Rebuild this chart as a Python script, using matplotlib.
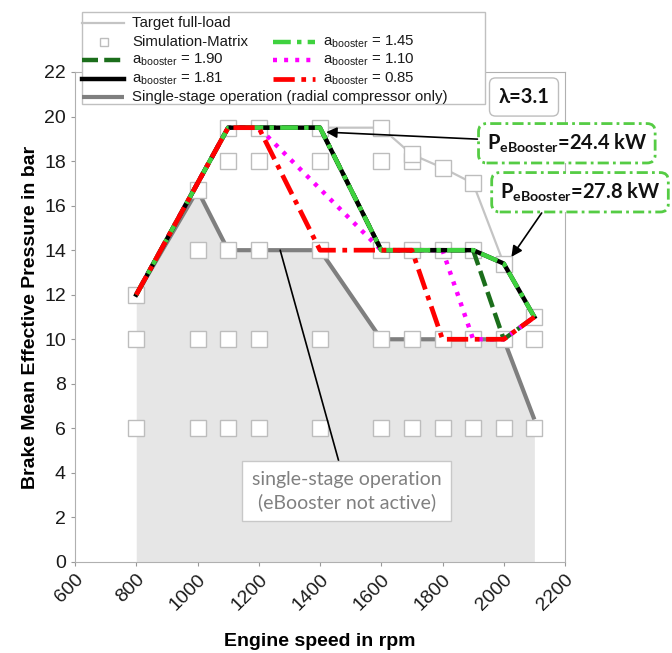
import matplotlib
matplotlib.use("Agg")
import matplotlib.pyplot as plt
from matplotlib.lines import Line2D
from matplotlib.patches import Rectangle

plt.rcParams['font.family'] = ['Liberation Sans', 'DejaVu Sans']
plt.rcParams['mathtext.fontset'] = 'custom'
plt.rcParams['mathtext.rm'] = 'Liberation Sans'
plt.rcParams['mathtext.bf'] = 'Lato:bold'

# ---- data -------------------------------------------------------------
target_rpm = [800, 1100, 1400, 1600, 1700, 1800, 1900, 2000, 2100]
target_bmep = [12.0, 19.5, 19.5, 19.5, 18.3, 17.7, 17.0, 13.4, 11.0]

single_rpm = [800, 1000, 1100, 1400, 1600, 2000, 2100]
single_bmep = [12.0, 16.7, 14.0, 14.0, 10.0, 10.0, 6.4]

sim_rpm = ([800, 1000, 1100, 1200, 1400, 1600, 1700, 1800, 1900, 2000, 2100] * 2
           + [1000, 1100, 1200, 1400, 1600, 1700, 1800, 1900]
           + [1100, 1200, 1400, 1600, 1700]
           + [1100, 1200, 1400, 1600]
           + [800, 1000, 1700, 1800, 1900, 2000, 2100])
sim_bmep = ([6] * 11 + [10] * 11
            + [14] * 8
            + [18] * 5
            + [19.5] * 4
            + [12, 16.7, 18.3, 17.7, 17.0, 13.4, 11.0])

b190_rpm = [800, 1100, 1400, 1600, 1900, 2000, 2100]
b190_bmep = [12.0, 19.5, 19.5, 14.0, 14.0, 10.0, 11.0]
b181_rpm = [800, 1100, 1400, 1600, 1900, 2000, 2100]
b181_bmep = [12.0, 19.5, 19.5, 14.0, 14.0, 13.4, 11.0]
b145_rpm = [800, 1100, 1400, 1600, 1900, 2000, 2100]
b145_bmep = [12.0, 19.5, 19.5, 14.0, 14.0, 13.4, 11.0]
b110_rpm = [800, 1100, 1200, 1600, 1800, 1900, 2000, 2100]
b110_bmep = [12.0, 19.5, 19.5, 14.0, 14.0, 10.0, 10.0, 11.0]
b085_rpm = [800, 1100, 1200, 1400, 1700, 1800, 2000, 2100]
b085_bmep = [12.0, 19.5, 19.5, 14.0, 14.0, 10.0, 10.0, 11.0]

x_ticks = [600, 800, 1000, 1200, 1400, 1600, 1800, 2000, 2200]
y_ticks = list(range(0, 23, 2))

power_labels = ['24.4 kW', '27.8 kW']
power_points = [(1420, 19.3), (2025, 13.7)]

# ---- styles -----------------------------------------------------------
st_target = dict(color='#c4c4c4', lw=1.6)
st_single = dict(color='#7f7f7f', lw=3.0, solid_capstyle='butt')
st_sim = dict(ls='none', marker='s', mfc='white', mec='#bdbdbd', mew=1.0)
st_190 = dict(color='#1b6e1b', lw=3.2, ls=(0, (3.6, 1.4)))
st_181 = dict(color='black', lw=3.2)
st_145 = dict(color='#3fd23f', lw=3.2, ls=(0, (4.0, 1.4, 1.0, 1.4)))
st_110 = dict(color='#ff00ff', lw=3.2, ls=(0, (0.9, 1.6)))
st_085 = dict(color='#ff0000', lw=3.4, ls=(0, (4.5, 1.4, 1.0, 1.4)))

W, H = 672, 653
fig = plt.figure(figsize=(W / 100, H / 100), dpi=100)
fig.patch.set_facecolor('white')


def fx(px):
    return px / W


def fy(py):
    return 1 - py / H


ax = fig.add_axes([fx(75), fy(562), (565 - 75) / W, (562 - 72) / H])
ax.set_xlim(600, 2200)
ax.set_ylim(0, 22)

# shaded single-stage region
ax.fill_between(single_rpm, 0, single_bmep, color='#e6e6e6', lw=0, zorder=0.5)

ax.plot(target_rpm, target_bmep, zorder=1, **st_target)
ax.plot(single_rpm, single_bmep, zorder=1.5, **st_single)
ax.plot(sim_rpm, sim_bmep, ms=12, zorder=2, **st_sim)

ax.plot(b190_rpm, b190_bmep, zorder=3, **st_190)
ax.plot(b110_rpm, b110_bmep, zorder=3.1, **st_110)
ax.plot(b181_rpm, b181_bmep, zorder=3.2, **st_181)
ax.plot(b145_rpm, b145_bmep, zorder=3.3, **st_145)
ax.plot(b085_rpm, b085_bmep, zorder=3.4, **st_085)

ax.set_xticks(x_ticks)
ax.set_yticks(y_ticks)
ax.tick_params(colors='#999999', labelcolor='#1a1a1a', labelsize=14, length=3)
plt.setp(ax.get_xticklabels(), rotation=45, ha='right', rotation_mode='anchor')
for s in ax.spines.values():
    s.set_color('#b0b0b0')
    s.set_linewidth(0.8)

ax.set_xlabel('Engine speed in rpm', fontsize=14, fontweight='bold', labelpad=14)
ax.set_ylabel('Brake Mean Effective Pressure in bar', fontsize=14,
              fontweight='bold', labelpad=4)

# annotation of the single-stage area
ax.annotate('single-stage operation\n(eBooster not active)', xy=(1270, 14.0),
            xytext=(1488, 3.2), ha='center', va='center', fontsize=14,
            family='Lato', color='#808080', linespacing=1.35,
            bbox=dict(boxstyle='square,pad=0.5', fc='white', ec='#c8c8c8', lw=1),
            arrowprops=dict(arrowstyle='-', color='black', lw=1.2, shrinkA=0, shrinkB=0),
            zorder=6)

# eBooster power boxes
box_style = dict(boxstyle='round,pad=0.4,rounding_size=0.4', fc='white',
                 ec='#55cc44', lw=2.0, ls=(0, (4, 1.5, 1, 1.5)))
text_pos = [(2206, 18.8), (2249, 16.6)]
relpos = [(0.5, 0.5), (0.3, 0.0)]
for lab, pt, tp, rp in zip(power_labels, power_points, text_pos, relpos):
    ax.annotate(r'P$_{\mathbf{eBooster}}$=' + lab, xy=pt, xytext=tp,
                ha='center', va='center', fontsize=14.5, family='Lato',
                fontweight='bold', color='#111111', bbox=box_style,
                annotation_clip=False,
                arrowprops=dict(arrowstyle='-|>', color='black', lw=1.2,
                                mutation_scale=16, shrinkA=0, shrinkB=0,
                                relpos=rp),
                zorder=7)

# lambda label
fig.text(fx(524), fy(97), 'λ=3.1', ha='center', va='center', fontsize=14.5,
         family='Lato', fontweight='bold', color='#111111',
         bbox=dict(boxstyle='round,pad=0.45,rounding_size=0.3', fc='white',
                   ec='#bdbdbd', lw=1.0))

# legend drawn in figure pixel layout
fig.add_artist(Rectangle((fx(82), fy(104)), (485 - 82) / W, (104 - 12) / H,
                         transform=fig.transFigure, fc='white', ec='#c0c0c0',
                         lw=1.0, zorder=8))
entries = [
    (82, 23, st_target, 'Target full-load', None),
    (82, 42, st_sim, 'Simulation-Matrix', 'marker'),
    (82, 60, st_190, r'a$_{\mathrm{booster}}$ = 1.90', None),
    (82, 79, st_181, r'a$_{\mathrm{booster}}$ = 1.81', None),
    (82, 97, st_single, 'Single-stage operation (radial compressor only)', None),
    (273, 42, st_145, r'a$_{\mathrm{booster}}$ = 1.45', None),
    (273, 60, st_110, r'a$_{\mathrm{booster}}$ = 1.10', None),
    (273, 79, st_085, r'a$_{\mathrm{booster}}$ = 0.85', None),
]
for x0, y0, st, lab, kind in entries:
    if kind == 'marker':
        h = Line2D([fx(x0 + 22)], [fy(y0)], ms=6, transform=fig.transFigure,
                   zorder=9, **st)
    else:
        h = Line2D([fx(x0), fx(x0 + 42)], [fy(y0), fy(y0)],
                   transform=fig.transFigure, zorder=9, **st)
    fig.add_artist(h)
    fig.text(fx(x0 + 50), fy(y0), lab, ha='left', va='center', fontsize=10.8,
             color='#1a1a1a', zorder=9)

fig.savefig('out.png', dpi=100)
